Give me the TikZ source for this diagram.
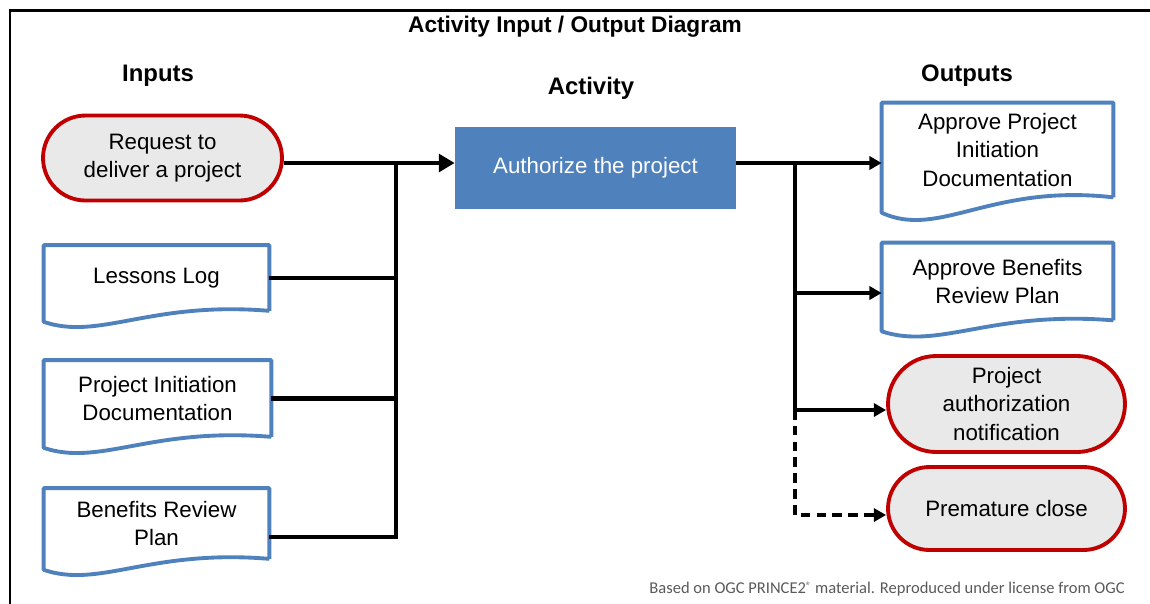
\documentclass[tikz,border=0pt]{standalone}
\usepackage{fontspec}
\setmainfont{Liberation Sans}
\newfontfamily\notefont{Carlito}
\usetikzlibrary{arrows.meta,shapes.misc,calc}
\definecolor{docblue}{RGB}{79,129,189}
\definecolor{termred}{RGB}{192,0,0}
\definecolor{termfill}{RGB}{233,233,233}
\definecolor{notegray}{RGB}{89,89,89}
% outline of a document node: flat top, wavy bottom below the node
\newcommand{\docoutline}[2][1]{%
  \draw[docblue,line width=2.2pt,line join=round]
    (#2.south east) -- (#2.north east) -- (#2.north west) -- ([yshift=-#1*0.22cm]#2.south west)
    .. controls ($(#2.south west)!0.25!(#2.south east)+(0,-#1*0.6cm)$)
    and ($(#2.south west)!0.47!(#2.south east)+(0,#1*0.2cm)$) .. (#2.south east);}

\begin{document}
\begin{tikzpicture}[x=0.02cm,y=-0.02cm,
  every node/.style={font=\fontsize{12.7}{16.2}\selectfont},
  doc/.style={align=center,inner sep=0pt,minimum width=4.5cm},
  term/.style={rounded rectangle,draw=termred,fill=termfill,line width=2.2pt,align=center,inner sep=0pt},
  head/.style={font=\bfseries\fontsize{13.6}{16}\selectfont},
  inline/.style={line width=2.8pt,line join=miter},
  outline/.style={line width=2pt,line join=miter},
  inarrow/.style={-{Triangle[length=9pt,width=10pt]}},
  outarrow/.style={-{Triangle[length=7pt,width=7.5pt]}}]
\useasboundingbox (0,0) rectangle (1150,603);
% frame
\draw[line width=1.7pt] (10,620) -- (10,10) -- (1170,10);
% headings
\node[font=\bfseries\fontsize{12.9}{15}\selectfont] (title) at (575,27) {Activity Input / Output Diagram};
\node[head] (hin) at (158,76) {Inputs};
\node[head] (hact) at (591,88) {Activity};
\node[head] (hout) at (967,76) {Outputs};
% inputs
\node[term,minimum width=4.78cm,minimum height=1.7cm] (req) at (162.5,158) {Request to\\deliver a project};
\node[doc,minimum height=1.3cm] (lessons) at (156.5,278) {Lessons Log};
\node[doc,minimum width=4.54cm,minimum height=1.52cm] (pidin) at (157.5,398.5) {Project Initiation\\Documentation};
\node[doc,minimum height=1.4cm] (brpin) at (156.5,523.5) {Benefits Review\\Plan};
\docoutline{lessons} \docoutline{pidin} \docoutline{brpin}
% activity
\node[fill=docblue,text=white,minimum width=5.62cm,minimum height=1.64cm] (auth) at (595.5,168) {Authorize the project};
% outputs
\node[doc,minimum width=4.62cm,minimum height=1.88cm] (pidout) at (997.5,150) {Approve Project\\Initiation\\Documentation};
\node[doc,minimum width=4.62cm,minimum height=1.54cm] (brpout) at (997.5,281.5) {Approve Benefits\\Review Plan};
\docoutline[1.4]{pidout} \docoutline{brpout}
\node[term,minimum width=4.74cm,minimum height=1.92cm] (notif) at (1006.5,404) {Project\\authorization\\notification};
\node[term,minimum width=4.74cm,minimum height=1.66cm] (close) at (1006.5,508.5) {Premature close};
% input bus
\coordinate (ib) at (396,163);
\coordinate (ibb) at (396,537);
\draw[inline,inarrow] (req.east |- ib) -- (auth.west |- ib);
\draw[inline] (lessons.east) -- (lessons.east -| ib);
\draw[inline] (pidin.east) -- (pidin.east -| ib);
\draw[inline] (ib) -- (ibb) -- (brpin.east |- ibb);
% output bus
\coordinate (ob) at (795,163);
\coordinate (ob2) at (795,293);
\coordinate (ob3) at (795,410);
\coordinate (ob4) at (795,515);
\draw[outline,outarrow] (auth.east |- ob) -- (pidout.west |- ob);
\draw[outline] (ob) -- (ob3);
\draw[outline,outarrow] (ob2) -- (brpout.west |- ob2);
\draw[outline,outarrow] (ob3) -- (notif.west |- ob3);
\draw[outline,outarrow,dash pattern=on 5.5pt off 3.5pt] (ob3) -- (ob4) -- (close.west |- ob4);
% source note
\node[font=\notefont\fontsize{9.4}{11}\selectfont,text=notegray,anchor=east,inner sep=0pt] (note) at (1125,589) {Based on OGC PRINCE2\raisebox{0.5ex}{\fontsize{6}{7}\selectfont ®} material. Reproduced under license from OGC};
\end{tikzpicture}
\end{document}
